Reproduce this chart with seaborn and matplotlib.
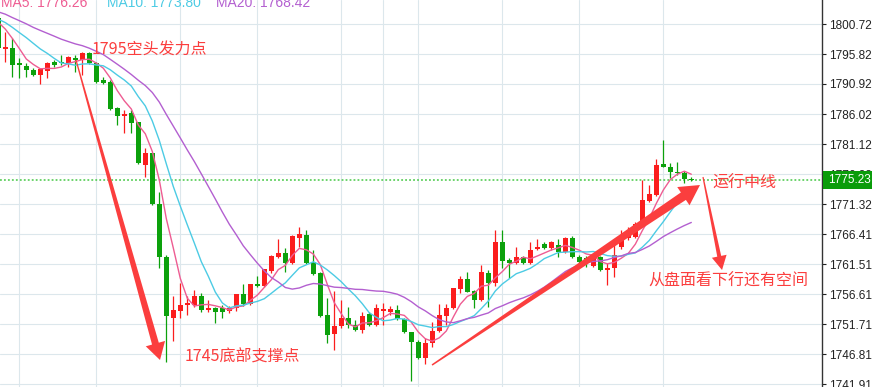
import numpy as np
import pandas as pd
import matplotlib
matplotlib.use("Agg")
import matplotlib.pyplot as plt
import seaborn as sns
from matplotlib.patches import Polygon, Rectangle
from matplotlib.transforms import IdentityTransform, blended_transform_factory

# ---------------- data (prices) ----------------
# closes before the visible window (only used to warm up the moving averages)
history_close = [1804.5, 1805.0, 1804.2, 1803.6, 1804.0, 1803.2, 1803.8, 1803.5, 1804.1, 1803.1,
                 1802.4, 1801.8, 1802.6, 1801.5, 1801.7,
                 1802.5, 1801.6, 1802.3, 1801.8]

opens = [1801.70, 1796.64, 1796.80, 1794.35, 1793.86, 1793.21, 1792.39, 1793.04, 1794.51, 1794.51,
         1794.35, 1795.17, 1794.84, 1795.98, 1794.35, 1791.57, 1791.25, 1787.00, 1785.69, 1786.18,
         1784.71, 1777.69, 1779.65, 1771.32, 1762.66, 1752.70, 1753.84, 1754.82, 1754.82, 1756.29,
         1754.01, 1754.33, 1754.33, 1753.84, 1754.33, 1756.62, 1754.99, 1758.25, 1757.93, 1760.38,
         1762.66, 1763.32, 1761.68, 1765.77, 1766.26, 1761.85, 1760.05, 1753.19, 1750.09, 1751.39,
         1752.70, 1751.56, 1750.74, 1753.35, 1751.56, 1753.84, 1753.68, 1754.01, 1752.54, 1750.41,
         1748.78, 1746.17, 1748.62, 1750.58, 1753.03, 1754.33, 1757.44, 1759.07, 1757.11, 1755.64,
         1760.05, 1758.42, 1765.11, 1762.17, 1761.68, 1762.66, 1761.68, 1763.97, 1764.79, 1764.13,
         1764.62, 1763.48, 1765.77, 1762.66, 1762.50, 1761.19, 1762.66, 1760.54, 1760.87, 1764.30,
         1765.77, 1765.93, 1768.38, 1771.81, 1772.79, 1777.85, 1777.36, 1776.55, 1776.38, 1775.40]

highs = [1802.35, 1799.41, 1798.43, 1795.17, 1794.35, 1793.53, 1793.53, 1794.51, 1794.84, 1795.66,
         1795.49, 1795.66, 1796.15, 1796.15, 1794.51, 1792.06, 1791.57, 1787.16, 1786.67, 1786.67,
         1784.71, 1780.47, 1779.65, 1773.28, 1762.99, 1756.29, 1758.42, 1756.29, 1757.27, 1756.78,
         1755.64, 1754.50, 1754.82, 1754.66, 1756.62, 1758.25, 1758.25, 1759.56, 1760.70, 1762.99,
         1765.60, 1764.13, 1766.26, 1767.56, 1767.07, 1763.81, 1760.21, 1755.97, 1757.11, 1755.64,
         1754.50, 1752.37, 1753.68, 1753.68, 1754.99, 1755.15, 1754.66, 1754.82, 1752.70, 1750.41,
         1749.11, 1749.43, 1752.05, 1754.99, 1754.99, 1757.60, 1759.56, 1760.21, 1757.27, 1761.36,
         1760.54, 1767.07, 1767.07, 1762.50, 1764.30, 1762.83, 1765.11, 1765.60, 1765.11, 1765.28,
         1765.60, 1765.93, 1766.09, 1762.99, 1762.83, 1762.66, 1762.83, 1761.68, 1764.95, 1767.07,
         1767.56, 1768.38, 1775.24, 1774.42, 1778.67, 1781.77, 1778.02, 1778.18, 1776.71, 1775.73]

lows = [1796.15, 1794.51, 1792.06, 1791.90, 1792.06, 1792.23, 1790.92, 1791.90, 1793.70, 1794.02,
        1793.70, 1792.88, 1792.39, 1794.19, 1791.08, 1790.92, 1786.67, 1784.22, 1782.92, 1782.92,
        1777.85, 1775.73, 1771.16, 1760.87, 1745.51, 1748.94, 1752.70, 1753.19, 1754.50, 1753.68,
        1753.68, 1751.88, 1752.70, 1753.52, 1753.84, 1754.66, 1754.82, 1757.76, 1757.76, 1760.05,
        1762.50, 1760.21, 1761.52, 1764.30, 1761.52, 1759.72, 1752.87, 1748.62, 1747.47, 1751.07,
        1751.07, 1750.58, 1750.25, 1751.39, 1751.39, 1751.56, 1753.19, 1752.37, 1750.25, 1742.41,
        1746.00, 1745.19, 1747.96, 1750.41, 1751.56, 1754.17, 1756.78, 1756.95, 1754.33, 1755.48,
        1754.50, 1757.93, 1760.87, 1759.23, 1761.52, 1761.52, 1761.52, 1763.81, 1763.97, 1763.81,
        1762.66, 1763.32, 1762.50, 1761.68, 1761.03, 1761.03, 1760.38, 1758.09, 1759.40, 1763.97,
        1765.44, 1765.77, 1768.21, 1771.65, 1772.63, 1777.36, 1775.57, 1776.06, 1774.75, 1775.07]

closes = [1796.80, 1796.96, 1794.02, 1794.02, 1793.21, 1792.39, 1793.37, 1794.35, 1794.02, 1794.35,
          1795.33, 1794.84, 1795.98, 1794.35, 1791.25, 1791.08, 1786.84, 1785.69, 1786.02, 1784.55,
          1778.02, 1779.65, 1771.32, 1762.66, 1753.03, 1754.01, 1754.82, 1755.15, 1756.29, 1754.01,
          1754.33, 1753.68, 1753.68, 1754.33, 1756.62, 1754.99, 1758.25, 1757.93, 1760.70, 1762.83,
          1763.32, 1761.68, 1766.09, 1766.42, 1761.68, 1759.89, 1753.03, 1749.92, 1751.39, 1752.70,
          1751.56, 1750.74, 1753.03, 1751.56, 1754.33, 1754.17, 1754.17, 1752.54, 1750.41, 1748.78,
          1746.17, 1748.62, 1750.58, 1753.19, 1754.33, 1757.60, 1759.07, 1756.95, 1755.64, 1760.21,
          1758.42, 1765.11, 1762.01, 1761.68, 1762.66, 1761.68, 1763.81, 1764.30, 1764.13, 1765.11,
          1763.48, 1765.77, 1762.66, 1761.85, 1762.01, 1762.50, 1760.54, 1760.87, 1762.99, 1765.44,
          1766.42, 1768.05, 1771.97, 1772.95, 1777.69, 1777.36, 1776.55, 1776.38, 1775.40, 1775.23]

y_ticks = [1800.72, 1795.82, 1790.92, 1786.02, 1781.12, 1776.22, 1771.32,
           1766.41, 1761.51, 1756.61, 1751.71, 1746.81, 1741.91]
grid_candles = [3, 14, 26, 37, 49, 55, 60, 72, 83, 95]
ma_windows = [5, 10, 20]
ma_names = ["MA5", "MA10", "MA20"]
ma_header_values = [1776.26, 1773.80, 1768.42]
last_price = 1775.23

notes = ["1795空头发力点", "1745底部支撑点", "运行中线", "从盘面看下行还有空间"]

# ---------------- layout / style ----------------
RED = "#fb1d1d"
GREEN = "#0ca10c"
MA_COLORS = ["#ee5c92", "#4ccbe4", "#b35fd0"]
NOTE_RED = "#fb3e3e"
GRID = "#dce7ec"

sns.set_theme(style="white")
plt.rcParams["font.family"] = ["Liberation Sans", "Noto Sans CJK SC", "DejaVu Sans"]

W, H = 872, 387
fig = plt.figure(figsize=(W / 100, H / 100), dpi=100)
fig.patch.set_facecolor("white")
ax = fig.add_axes([0, 0, 822 / W, 1])
ax.set_facecolor("white")

n = len(closes)
idx = np.arange(n)
df = pd.DataFrame({"i": idx, "open": opens, "high": highs, "low": lows, "close": closes})
df["up"] = df["close"] >= df["open"]

# candles
for _, r in df.iterrows():
    c = RED if r["up"] else GREEN
    ax.vlines(r["i"], r["low"], r["high"], color=c, lw=0.9, zorder=2)
    lo = min(r["open"], r["close"])
    h = max(abs(r["close"] - r["open"]), 0.2)
    ax.bar(r["i"], h, bottom=lo, width=0.72, color=c, edgecolor=c, lw=0, zorder=3)

# moving averages
full = pd.Series(history_close + closes)
for w, col in zip(ma_windows, MA_COLORS):
    ma = full.rolling(w).mean().iloc[len(history_close):].to_numpy()
    sns.lineplot(x=idx, y=ma, color=col, lw=1.0, ax=ax, legend=False, zorder=4)

# last price line
ax.axhline(last_price, color="#45c845", lw=1.1, ls=(0, (1.2, 1.4)), zorder=1.5)

ax.set_xlim(0.243, 117.67)
ax.set_ylim(1741.43, 1804.64)

ax.set_yticks(y_ticks)
ax.set_yticklabels([f"{v:.2f}" for v in y_ticks])
ax.yaxis.tick_right()
ax.tick_params(axis="y", direction="out", length=3, width=0.8, pad=2,
               labelsize=8.5, colors="#222222", right=True, left=False)
ax.set_xticks(grid_candles)
ax.tick_params(axis="x", length=0, labelbottom=False, bottom=False)
ax.grid(True, color=GRID, lw=0.8)
ax.set_axisbelow(True)
for s in ["left", "top", "bottom"]:
    ax.spines[s].set_visible(False)
ax.spines["right"].set_color("#333333")
ax.spines["right"].set_linewidth(1.0)

# last price box
bt = blended_transform_factory(ax.transAxes, ax.transData)
box_h = 18 * (1804.64 - 1741.43) / H
ax.add_patch(Rectangle((1.001, last_price - box_h / 2), 0.07, box_h, transform=bt,
                       facecolor="#0a9c0a", edgecolor="none", clip_on=False, zorder=10))
ax.text(1.0 + 6 / 822, last_price, f"{last_price:.2f}", transform=bt, color="white",
        fontsize=8.5, va="center", ha="left", clip_on=False, zorder=11)

# header
header_x = [1, 107, 216]
for name, val, col, x in zip(ma_names, ma_header_values, MA_COLORS, header_x):
    ax.text(x / 822, 1 - 7 / H, f"{name}: {val:.2f}", transform=ax.transAxes, color=col,
            fontsize=10, va="baseline", ha="left", zorder=12)

# annotations
note_pos = [(13.39, 1796.55), (26.67, 1746.33), (101.96, 1774.75), (92.81, 1758.74)]
for t, (x, y) in zip(notes, note_pos):
    ax.text(x, y, t, color=NOTE_RED, fontsize=11.5, family=["Noto Sans CJK SC", "DejaVu Sans"],
            va="center", ha="left", zorder=12)


def tapered_arrow(tail, tip, head_len, head_w, shaft_w, tail_w, color):
    p0 = ax.transData.transform(tail)
    p1 = ax.transData.transform(tip)
    d = p1 - p0
    u = d / np.hypot(*d)
    nrm = np.array([-u[1], u[0]])
    base = p1 - u * head_len
    pts = [p0 + nrm * tail_w / 2, base + nrm * shaft_w / 2, base + nrm * head_w / 2, p1,
           base - nrm * head_w / 2, base - nrm * shaft_w / 2, p0 - nrm * tail_w / 2]
    fig.add_artist(Polygon(pts, closed=True, transform=IdentityTransform(),
                           facecolor=color, edgecolor="none", zorder=8))


arrows = [((11.1, 1794.84), (23.1, 1745.84), 17, 20, 7, 1.2),
          ((61.96, 1745.02), (100.24, 1774.42), 20, 22, 9, 1.5),
          ((100.67, 1775.73), (103.39, 1760.54), 14, 15, 4, 1.2)]
for tail, tip, hl, hw, sw, tw in arrows:
    tapered_arrow(tail, tip, hl, hw, sw, tw, NOTE_RED)

fig.savefig("out.png", dpi=100)
